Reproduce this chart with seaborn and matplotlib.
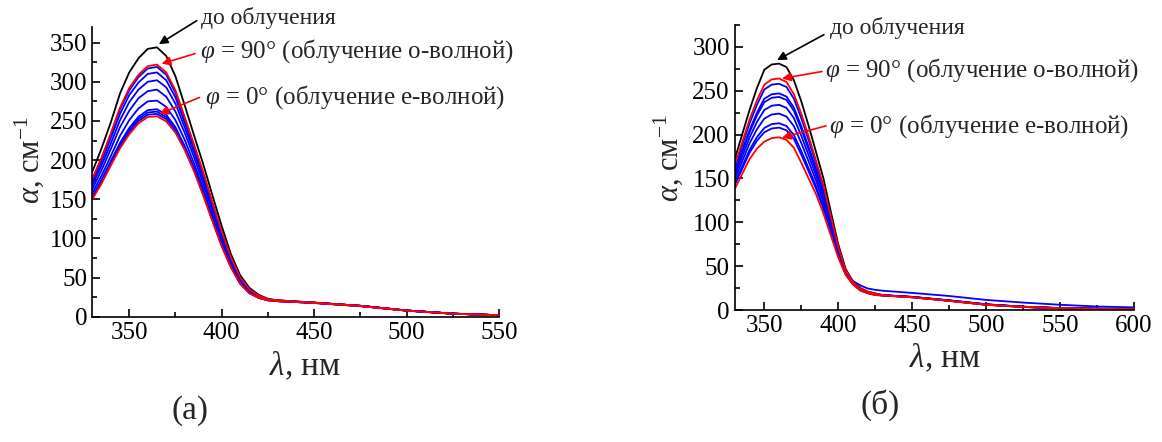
import pandas as pd
import matplotlib
matplotlib.use("Agg")
import matplotlib.pyplot as plt
import seaborn as sns
from matplotlib.ticker import MultipleLocator

# ---- panel (a) ----
wl_a = [330, 335, 340, 345, 350, 355, 360, 365, 370, 375, 380, 385, 390,
        395, 400, 405, 410, 415, 420, 425, 430, 450, 475, 500, 525, 550]

a_before = [185, 215, 248, 285, 312, 330, 342, 344, 333, 307, 270, 232, 195,
            155, 116, 80, 53, 37, 28, 23, 21, 18, 14, 8, 4, 2]
a_o_wave = [176, 203, 234, 267, 292, 309, 320, 322, 312, 289, 255, 220, 185,
            146, 109, 76, 50, 35, 27, 22.5, 21, 18, 14, 8, 4, 2]
a_blue = [
    [175, 202, 232, 265, 289, 306, 317, 319, 309, 286, 253, 219, 183,
     145, 108, 75, 50, 35, 27, 22, 21, 18, 14, 8, 4, 2],
    [172, 198, 228, 259, 283, 299, 310, 312, 302, 280, 248, 215, 180,
     143, 106, 74, 49, 34, 26.5, 22, 21, 18, 14, 8, 4, 2],
    [168, 193, 221, 251, 274, 290, 300, 302, 293, 272, 242, 210, 176,
     139, 103, 72, 48, 34, 26, 22, 20.5, 18, 14, 8, 4, 2],
    [163, 187, 214, 242, 263, 279, 288, 290, 281, 262, 235, 204, 170,
     135, 100, 70, 46, 33, 25.5, 22, 20.5, 18, 14, 8, 4, 2],
    [158, 180, 205, 231, 251, 266, 275, 276, 268, 251, 226, 196, 164,
     129, 96, 67, 44.5, 31.6, 25, 21.5, 20, 17.8, 13.8, 8, 4, 2],
    [153.5, 174.5, 198.6, 222, 241, 255.4, 263.8, 265, 258, 242, 218, 190.6, 159,
     125.3, 92.6, 64.7, 43, 30.7, 24.4, 21.2, 20, 17.8, 13.8, 8, 4, 2],
    [152.3, 173, 196.7, 219.7, 238.3, 252.6, 260.8, 262, 255, 239.5, 216.5, 189, 157.7,
     124.2, 91.7, 64, 42.7, 30.5, 24.3, 21.1, 20, 17.7, 13.7, 7.9, 4, 2],
    [151, 171.5, 195, 217.4, 235.7, 249.8, 258, 259, 252.5, 237, 215, 187.6, 156.4,
     123, 90.9, 63.6, 42.4, 30.2, 24.1, 21, 20, 17.7, 13.7, 7.9, 4, 2],
]
a_e_wave = [150, 170, 193, 215, 233, 247, 255, 256, 249.5, 235, 213, 186, 155,
            122, 90, 63, 42, 30, 24, 21, 20, 17.6, 13.6, 7.8, 3.9, 2]

# ---- panel (б) ----
wl_b = [330, 335, 340, 345, 350, 355, 360, 365, 370, 375, 380, 385, 390,
        395, 400, 405, 410, 415, 420, 425, 430, 450, 475, 500, 525, 550, 575, 600]

b_before = [172, 200, 228, 253, 274, 280, 281, 277, 262, 238, 210, 180, 150,
            112, 75, 47, 32, 25, 21, 19, 17, 14.5, 10.5, 6, 3.5, 2, 1.3, 1]
b_o_wave = [165, 191, 217, 239, 257, 263, 264, 260, 246, 224, 198, 170, 142,
            106.5, 72, 45.6, 31.4, 24.4, 20.6, 18.6, 17, 14.5, 10.5, 6, 3.5, 2, 1.3, 1]
b_blue = [
    [162.7, 187.7, 212.7, 234, 251.5, 257, 258, 254.3, 241, 218.8, 193.6, 166.8, 139,
     104.6, 71, 45, 33, 28, 24.5, 23, 22, 19.5, 16, 11.5, 8.5, 6, 4, 3],
    [158, 182, 205, 225, 241, 246, 247, 243.4, 230.8, 209.6, 185.7, 160.6, 133.8,
     101, 69, 44, 30.8, 23.8, 20.2, 18.2, 17, 15, 11, 6.5, 3.8, 2.2, 1.5, 1.2],
    [156.6, 179.7, 202.7, 221.8, 237, 242, 243, 239.5, 227.2, 206.4, 182.9, 158.3, 131.9,
     99.8, 68.2, 43.8, 30.6, 23.6, 20.1, 18.1, 17, 15, 11, 6.5, 3.8, 2.2, 1.5, 1.2],
    [153, 174.8, 196.6, 214.4, 228.1, 233, 234, 230.5, 218.9, 198.8, 176.4, 153.1, 127.6,
     96.9, 66.6, 43.1, 30.3, 23.3, 19.9, 17.9, 16.8, 14.8, 10.8, 6.3, 3.7, 2.1, 1.4, 1.1],
    [149, 169.4, 190, 206.1, 218.3, 223, 224, 220.6, 209.7, 190.5, 169.3, 147.4, 122.8,
     93.7, 64.8, 42.2, 30, 23, 19.6, 17.6, 16.7, 14.8, 10.8, 6.3, 3.7, 2.1, 1.4, 1.1],
    [144.5, 163.5, 182.6, 197.1, 207.6, 212, 213, 209.8, 199.6, 181.3, 161.4, 141.1, 117.6,
     90.1, 62.8, 41.3, 29.6, 22.6, 19.4, 17.4, 16.6, 14.7, 10.7, 6.2, 3.6, 2, 1.3, 1],
    [142.5, 160.9, 179.3, 193, 202.7, 207, 208, 204.9, 195.1, 177.2, 157.9, 138.3, 115.2,
     88.5, 62, 40.9, 29.4, 22.4, 19.3, 17.3, 16.6, 14.7, 10.7, 6.2, 3.6, 2, 1.3, 1],
]
b_e_wave = [138, 155, 172, 184, 192, 196, 197, 194, 185, 168, 150, 132, 110,
            85, 60, 40, 29, 22, 19, 17, 16.5, 14.5, 10.5, 6, 3.5, 2, 1.3, 1]

label_before = "до облучения"
label_o = r"$\varphi$ = 90° (облучение о-волной)"
label_e = r"$\varphi$ = 0° (облучение е-волной)"


def build_frame(wl, before, o_wave, blues, e_wave):
    """Long-form table: one row per point, one 'curve' id per spectrum."""
    rows = []
    for name, vals in [("before", before)] + \
            [(f"blue{i}", b) for i, b in enumerate(blues)] + \
            [("o", o_wave), ("e", e_wave)]:
        for x, y in zip(wl, vals):
            rows.append({"wl": x, "alpha": y, "curve": name})
    return pd.DataFrame(rows)


def plot_panel(ax, df, xmax, ymax, notes):
    curves = list(dict.fromkeys(df["curve"]))
    palette = {c: ("black" if c == "before" else "red" if c in ("o", "e") else "blue")
               for c in curves}
    sns.lineplot(data=df, x="wl", y="alpha", hue="curve", hue_order=curves,
                 palette=palette, estimator=None, sort=False, lw=1.3,
                 legend=False, ax=ax)
    ax.set_xlim(330, xmax)
    ax.set_ylim(0, ymax)
    ax.xaxis.set_major_locator(MultipleLocator(50))
    ax.xaxis.set_minor_locator(MultipleLocator(25))
    ax.yaxis.set_major_locator(MultipleLocator(50))
    ax.yaxis.set_minor_locator(MultipleLocator(25))
    ax.tick_params(which="both", direction="in", width=1.2, labelsize=18)
    ax.tick_params(which="major", length=6)
    ax.tick_params(which="minor", length=3.5)
    sns.despine(ax=ax)
    for s in ("left", "bottom"):
        ax.spines[s].set_linewidth(1.2)
    ax.set_xlabel(r"$\lambda$, нм", fontsize=24)
    ax.set_ylabel(r"$\alpha$, см$^{-1}$", fontsize=22)
    for text, color, head, tail, txt_pos, fs in notes:
        ax.annotate("", xy=head, xytext=tail, annotation_clip=False,
                    arrowprops=dict(arrowstyle="-|>", color=color, lw=1.2,
                                    mutation_scale=13, shrinkA=0, shrinkB=0))
        ax.text(txt_pos[0], txt_pos[1], text, fontsize=fs, va="center",
                ha="left", clip_on=False)


if __name__ == "__main__":
    sns.set_style("ticks")
    plt.rcParams["font.family"] = ["Liberation Serif", "DejaVu Serif"]
    plt.rcParams["mathtext.fontset"] = "custom"
    plt.rcParams["mathtext.rm"] = "Liberation Serif"
    plt.rcParams["mathtext.it"] = "Liberation Serif:italic"
    plt.rcParams["axes.edgecolor"] = "black"
    plt.rcParams["xtick.color"] = "black"
    plt.rcParams["ytick.color"] = "black"

    fig = plt.figure(figsize=(11.62, 4.42), dpi=100)
    ax_a = fig.add_axes([0.0794, 0.2833, 0.350, 0.6557])
    ax_b = fig.add_axes([0.6323, 0.2986, 0.3436, 0.6448])

    df_a = build_frame(wl_a, a_before, a_o_wave, a_blue, a_e_wave)
    df_b = build_frame(wl_b, b_before, b_o_wave, b_blue, b_e_wave)

    plot_panel(ax_a, df_a, 550, 370, [
        (label_before, "black", (366, 348), (386.5, 378), (389, 381), 17),
        (label_o, "red", (367.5, 323), (385.6, 336), (388.5, 339), 18),
        (label_e, "red", (366.3, 259), (388, 280), (391, 280), 18),
    ])
    plot_panel(ax_b, df_b, 600, 325, [
        (label_before, "black", (358.6, 285), (390.3, 314), (394.4, 322), 17),
        (label_o, "red", (362, 264), (389, 272), (391, 273.6), 18),
        (label_e, "red", (362, 196.5), (391.7, 210), (394, 210), 18),
    ])

    ax_a.yaxis.set_label_coords(-0.114, 0.54)
    ax_a.xaxis.set_label_coords(0.523, -0.115)
    ax_b.yaxis.set_label_coords(-0.125, 0.533)
    ax_b.xaxis.set_label_coords(0.527, -0.112)

    fig.text(0.1635, 0.072, "(а)", fontsize=24, ha="center", va="center")
    fig.text(0.757, 0.084, "(б)", fontsize=24, ha="center", va="center")

    fig.savefig("out.png", dpi=100)
